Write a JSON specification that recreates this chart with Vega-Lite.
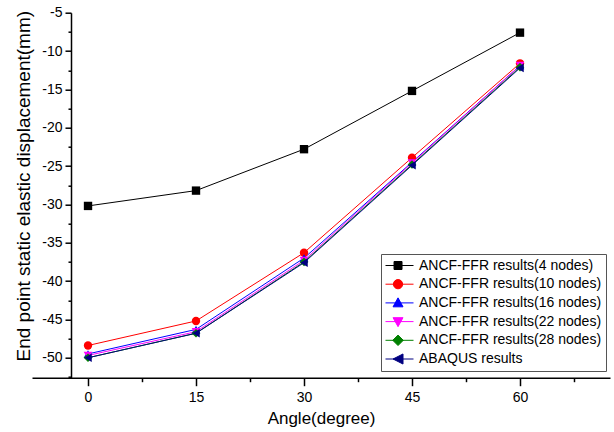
{
  "$schema": "https://vega.github.io/schema/vega-lite/v6.json",
  "autosize": {"type": "none"},
  "padding": {"left": 32, "top": 12.7, "right": 4, "bottom": 54.3},
  "width": 578,
  "height": 365,
  "background": "white",
  "config": {
    "view": {"stroke": null},
    "font": "Liberation Sans",
    "axis": {
      "domainColor": "black",
      "domainWidth": 1.5,
      "tickColor": "black",
      "tickWidth": 1.5,
      "labelColor": "black",
      "labelFont": "Liberation Sans",
      "labelFontSize": 14,
      "labelFlush": false,
      "labelOverlap": false,
      "titleFont": "Liberation Sans",
      "titleFontSize": 17,
      "titleFontWeight": "normal",
      "titleColor": "black",
      "grid": false
    },
    "legend": {
      "orient": "none",
      "legendX": 349,
      "legendY": 241.3,
      "padding": 4,
      "strokeColor": "#555555",
      "fillColor": "white",
      "symbolSize": 196,
      "symbolStrokeWidth": 1,
      "labelOffset": 19,
      "labelFont": "Liberation Sans",
      "labelFontSize": 14,
      "labelColor": "black",
      "labelLimit": 300,
      "rowPadding": 3.7
    }
  },
  "data": {
    "values": [
      {"angle": 0, "value": -30.2, "series": "ANCF-FFR results(4 nodes)"},
      {"angle": 15, "value": -28.2, "series": "ANCF-FFR results(4 nodes)"},
      {"angle": 30, "value": -22.8, "series": "ANCF-FFR results(4 nodes)"},
      {"angle": 45, "value": -15.2, "series": "ANCF-FFR results(4 nodes)"},
      {"angle": 60, "value": -7.6, "series": "ANCF-FFR results(4 nodes)"},
      {"angle": 0, "value": -48.4, "series": "ANCF-FFR results(10 nodes)"},
      {"angle": 15, "value": -45.2, "series": "ANCF-FFR results(10 nodes)"},
      {"angle": 30, "value": -36.3, "series": "ANCF-FFR results(10 nodes)"},
      {"angle": 45, "value": -23.9, "series": "ANCF-FFR results(10 nodes)"},
      {"angle": 60, "value": -11.6, "series": "ANCF-FFR results(10 nodes)"},
      {"angle": 0, "value": -49.5, "series": "ANCF-FFR results(16 nodes)"},
      {"angle": 15, "value": -46.3, "series": "ANCF-FFR results(16 nodes)"},
      {"angle": 30, "value": -37.0, "series": "ANCF-FFR results(16 nodes)"},
      {"angle": 45, "value": -24.5, "series": "ANCF-FFR results(16 nodes)"},
      {"angle": 60, "value": -11.9, "series": "ANCF-FFR results(16 nodes)"},
      {"angle": 0, "value": -49.7, "series": "ANCF-FFR results(22 nodes)"},
      {"angle": 15, "value": -46.6, "series": "ANCF-FFR results(22 nodes)"},
      {"angle": 30, "value": -37.3, "series": "ANCF-FFR results(22 nodes)"},
      {"angle": 45, "value": -24.6, "series": "ANCF-FFR results(22 nodes)"},
      {"angle": 60, "value": -11.9, "series": "ANCF-FFR results(22 nodes)"},
      {"angle": 0, "value": -50.0, "series": "ANCF-FFR results(28 nodes)"},
      {"angle": 15, "value": -46.8, "series": "ANCF-FFR results(28 nodes)"},
      {"angle": 30, "value": -37.5, "series": "ANCF-FFR results(28 nodes)"},
      {"angle": 45, "value": -24.8, "series": "ANCF-FFR results(28 nodes)"},
      {"angle": 60, "value": -12.1, "series": "ANCF-FFR results(28 nodes)"},
      {"angle": 0, "value": -50.0, "series": "ABAQUS results"},
      {"angle": 15, "value": -46.8, "series": "ABAQUS results"},
      {"angle": 30, "value": -37.6, "series": "ABAQUS results"},
      {"angle": 45, "value": -24.9, "series": "ABAQUS results"},
      {"angle": 60, "value": -12.2, "series": "ABAQUS results"}
    ]
  },
  "encoding": {
    "x": {
      "field": "angle",
      "type": "quantitative",
      "scale": {"domain": [-7.78, 72.5], "nice": false, "zero": false},
      "axis": {
        "title": "Angle(degree)",
        "values": [0, 7.5, 15, 22.5, 30, 37.5, 45, 52.5, 60, 67.5],
        "labelExpr": "datum.value % 15 === 0 ? '' + datum.value : ''",
        "labelFlush": false,
        "labelAlign": "center",
        "labelBound": false,
        "tickSize": {"condition": {"test": "datum.value % 15 === 0", "value": 8}, "value": 4},
        "labelPadding": 5,
        "titlePadding": 6
      }
    },
    "y": {
      "field": "value",
      "type": "quantitative",
      "scale": {"domain": [-52.6, -5], "nice": false, "zero": false},
      "axis": {
        "title": "End point static elastic displacement(mm)",
        "titleFontSize": 19,
        "titleY": 173,
        "offset": -39,
        "values": [-5, -7.5, -10, -12.5, -15, -17.5, -20, -22.5, -25, -27.5, -30, -32.5, -35, -37.5, -40, -42.5, -45, -47.5, -50, -52.5],
        "labelExpr": "datum.value % 5 === 0 ? '' + datum.value : ''",
        "labelFlush": false,
        "tickSize": {"condition": {"test": "datum.value % 5 === 0", "value": 6}, "value": 3},
        "labelPadding": 3,
        "titlePadding": 8
      }
    }
  },
  "layer": [
    {
      "transform": [{"filter": "datum.series === 'ANCF-FFR results(4 nodes)'"}],
      "mark": {"type": "line", "strokeWidth": 1, "color": "#000000"}
    },
    {
      "transform": [{"filter": "datum.series === 'ANCF-FFR results(10 nodes)'"}],
      "mark": {"type": "line", "strokeWidth": 1, "color": "#ff0000"}
    },
    {
      "transform": [{"filter": "datum.series === 'ANCF-FFR results(16 nodes)'"}],
      "mark": {"type": "line", "strokeWidth": 1, "color": "#0000ff"}
    },
    {
      "transform": [{"filter": "datum.series === 'ANCF-FFR results(22 nodes)'"}],
      "mark": {"type": "line", "strokeWidth": 1, "color": "#ff00ff"}
    },
    {
      "transform": [{"filter": "datum.series === 'ANCF-FFR results(28 nodes)'"}],
      "mark": {"type": "line", "strokeWidth": 1, "color": "#008000"}
    },
    {
      "transform": [{"filter": "datum.series === 'ABAQUS results'"}],
      "mark": {"type": "line", "strokeWidth": 1, "color": "#000080"}
    },
    {
      "transform": [{"filter": "datum.series === 'ANCF-FFR results(4 nodes)'"}],
      "mark": {"type": "point", "shape": "square", "filled": true, "opacity": 1, "size": 70, "color": "#000000"}
    },
    {
      "transform": [{"filter": "datum.series === 'ANCF-FFR results(10 nodes)'"}],
      "mark": {"type": "point", "shape": "circle", "filled": true, "opacity": 1, "size": 70, "color": "#ff0000"}
    },
    {
      "transform": [{"filter": "datum.series === 'ANCF-FFR results(16 nodes)'"}],
      "mark": {"type": "point", "shape": "triangle-up", "filled": true, "opacity": 1, "size": 75, "color": "#0000ff"}
    },
    {
      "transform": [{"filter": "datum.series === 'ANCF-FFR results(22 nodes)'"}],
      "mark": {"type": "point", "shape": "triangle-down", "filled": true, "opacity": 1, "size": 75, "color": "#ff00ff"}
    },
    {
      "transform": [{"filter": "datum.series === 'ANCF-FFR results(28 nodes)'"}],
      "mark": {"type": "point", "shape": "diamond", "filled": true, "opacity": 1, "size": 75, "color": "#008000"}
    },
    {
      "transform": [{"filter": "datum.series === 'ABAQUS results'"}],
      "mark": {"type": "point", "shape": "triangle-left", "filled": true, "opacity": 1, "size": 75, "color": "#000080"}
    },
    {
      "transform": [{"filter": "datum.angle < -100"}],
      "mark": {"type": "point", "filled": true, "opacity": 1, "strokeWidth": 1},
      "encoding": {
        "fill": {
          "field": "series",
          "type": "nominal",
          "scale": {
            "domain": ["ANCF-FFR results(4 nodes)", "ANCF-FFR results(10 nodes)", "ANCF-FFR results(16 nodes)", "ANCF-FFR results(22 nodes)", "ANCF-FFR results(28 nodes)", "ABAQUS results"],
            "range": ["#000000", "#ff0000", "#0000ff", "#ff00ff", "#008000", "#000080"]
          },
          "legend": {"title": null}
        },
        "stroke": {
          "field": "series",
          "type": "nominal",
          "scale": {
            "domain": ["ANCF-FFR results(4 nodes)", "ANCF-FFR results(10 nodes)", "ANCF-FFR results(16 nodes)", "ANCF-FFR results(22 nodes)", "ANCF-FFR results(28 nodes)", "ABAQUS results"],
            "range": ["#000000", "#ff0000", "#0000ff", "#ff00ff", "#008000", "#000080"]
          },
          "legend": {"title": null}
        },
        "shape": {
          "field": "series",
          "type": "nominal",
          "scale": {
            "domain": ["ANCF-FFR results(4 nodes)", "ANCF-FFR results(10 nodes)", "ANCF-FFR results(16 nodes)", "ANCF-FFR results(22 nodes)", "ANCF-FFR results(28 nodes)", "ABAQUS results"],
            "range": [
              "M-1,0H3M0.22,-0.57H1.36V0.57H0.22Z",
              "M-1,0H3M0.13,0A0.66,0.66 0 1,0 1.45,0A0.66,0.66 0 1,0 0.13,0Z",
              "M-1,0H3M0.79,-0.72L1.5,0.56L0.08,0.56Z",
              "M-1,0H3M0.79,0.72L1.5,-0.56L0.08,-0.56Z",
              "M-1,0H3M0.79,-0.75L1.54,0L0.79,0.75L0.04,0Z",
              "M-1,0H3M0.08,0L1.5,-0.72L1.5,0.72Z"
            ]
          },
          "legend": {"title": null}
        }
      }
    }
  ]
}
